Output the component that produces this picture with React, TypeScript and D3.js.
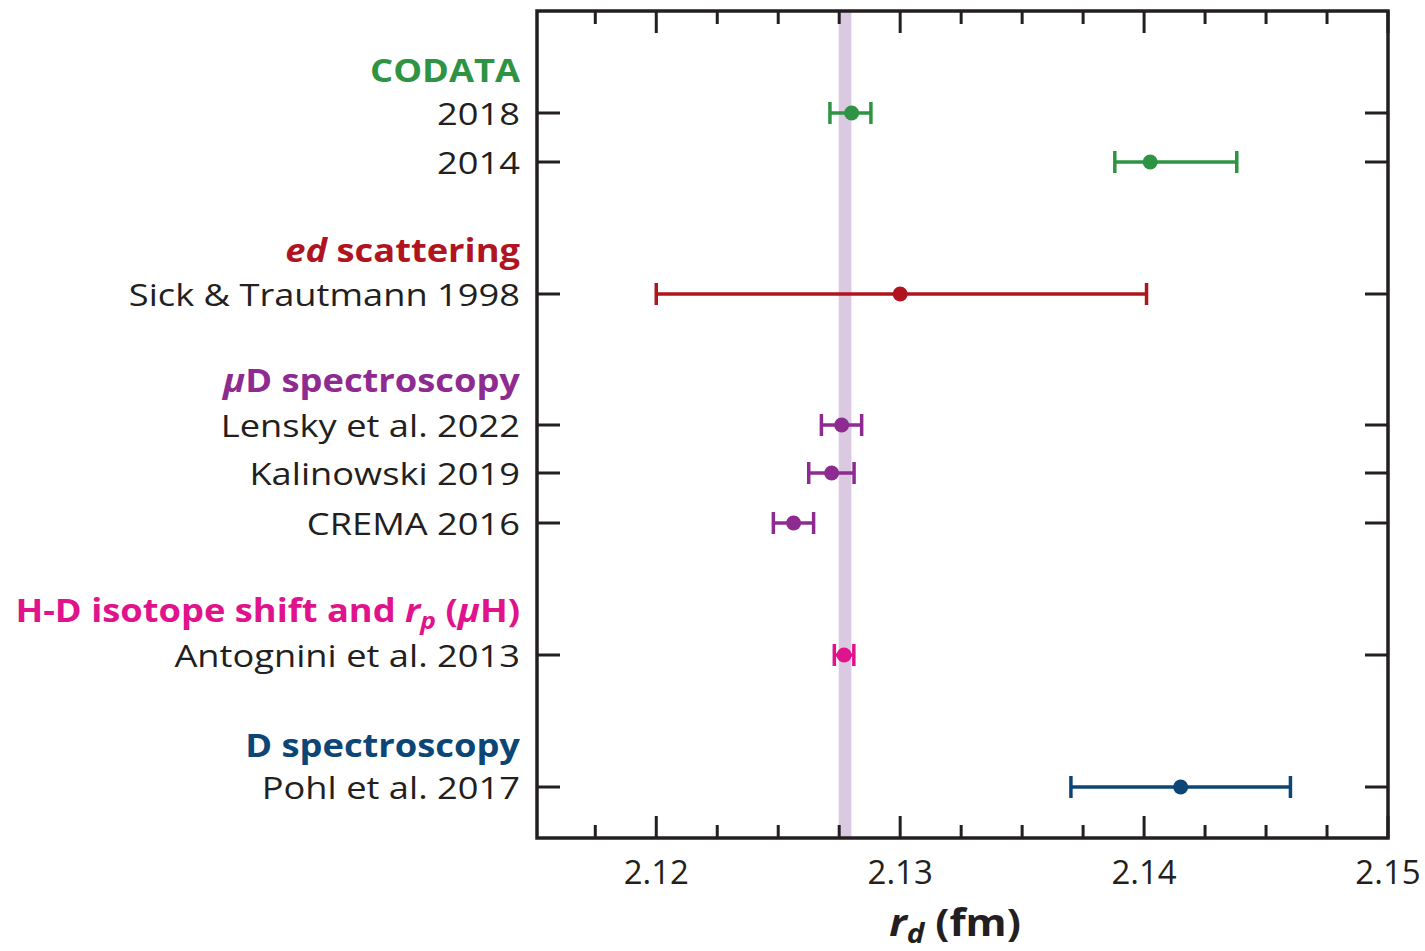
import React from "react";
import * as d3 from "d3";

type Row = { label: string; value: number; lo: number; hi: number; color: string; y: number };

const groupHeaders = ["CODATA", "ed scattering", "μD spectroscopy", "H-D isotope shift and r_p (μH)", "D spectroscopy"];
const groupColors = ["#2e9444", "#b0141f", "#8e2b91", "#e0128c", "#0b4676"];

const rowLabels = ["2018", "2014", "Sick & Trautmann 1998", "Lensky et al. 2022", "Kalinowski 2019", "CREMA 2016", "Antognini et al. 2013", "Pohl et al. 2017"];
const rowGroup = [0, 0, 1, 2, 2, 2, 3, 4];
const rowValues = [2.12801, 2.14025, 2.13, 2.1276, 2.12719, 2.12563, 2.1277, 2.1415];
const rowLow = [2.12712, 2.1388, 2.12, 2.12677, 2.12625, 2.1248, 2.1273, 2.137];
const rowHigh = [2.1288, 2.1438, 2.1401, 2.12842, 2.12811, 2.12645, 2.1281, 2.146];

const bandLow = 2.12748;
const bandHigh = 2.128;
const majorTicks = [2.12, 2.13, 2.14, 2.15];
const minorTicks = [2.1175, 2.1225, 2.125, 2.1275, 2.1325, 2.135, 2.1375, 2.1425, 2.145, 2.1475];

const FONT = "'Open Sans', 'Noto Sans', sans-serif";

export default function App() {
  const W = 1425, H = 951;
  const left = 537, right = 1388, top = 11, bottom = 838;
  const x = d3.scaleLinear().domain([2.11511, 2.15]).range([left, right]);
  const yPos: Record<string, number> = {
    h0: 70, r0: 113, r1: 162,
    h1: 250, r2: 294,
    h2: 380, r3: 425, r4: 473, r5: 523,
    h3: 610, r6: 655,
    h4: 745, r7: 787,
  };
  const yScale = d3.scaleOrdinal<string, number>().domain(Object.keys(yPos)).range(Object.values(yPos));

  const rows: Row[] = rowLabels.map((l, i) => ({
    label: l, value: rowValues[i], lo: rowLow[i], hi: rowHigh[i], color: groupColors[rowGroup[i]], y: yScale("r" + i),
  }));

  const labelX = 520;
  const fs = 31;
  const hfs = 33;
  const rowSx = 1.17;
  const headSx = 1.1;
  const capH = 11;
  const ink = "#231f20";

  const header = (i: number) => {
    const y = yScale("h" + i) + 12;
    const c = groupColors[i];
    const common = { x: 0, y: 0, textAnchor: "end" as const, fill: c, fontFamily: FONT, fontWeight: 700, fontSize: hfs };
    let content: React.ReactNode;
    if (i === 1) content = <text {...common}><tspan fontStyle="italic">ed</tspan> scattering</text>;
    else if (i === 2) content = <text {...common}><tspan fontStyle="italic">μ</tspan>D spectroscopy</text>;
    else if (i === 3)
      content = (
        <text {...common}>
          H-D isotope shift and <tspan fontStyle="italic">r</tspan>
          <tspan fontStyle="italic" fontSize={24} dy={7}>p</tspan>
          <tspan dy={-7}> (</tspan>
          <tspan fontStyle="italic">μ</tspan>H)
        </text>
      );
    else content = <text {...common}>{groupHeaders[i]}</text>;
    return (
      <g key={"h" + i} transform={`translate(${labelX},${y}) scale(${headSx},1)`}>
        {content}
      </g>
    );
  };

  return (
    <svg width={W} height={H} style={{ display: "block", position: "absolute", left: 0, top: 0 }}>
      <rect width={W} height={H} fill="#fff" />
      <rect x={x(bandLow)} y={top} width={x(bandHigh) - x(bandLow)} height={bottom - top} fill="#dbc8e1" />
      {majorTicks.map((t) => (
        <g key={"M" + t} stroke={ink} strokeWidth={3}>
          <line x1={x(t)} x2={x(t)} y1={top} y2={top + 22} />
          <line x1={x(t)} x2={x(t)} y1={bottom} y2={bottom - 22} />
        </g>
      ))}
      {minorTicks.map((t) => (
        <g key={"m" + t} stroke={ink} strokeWidth={3}>
          <line x1={x(t)} x2={x(t)} y1={top} y2={top + 13} />
          <line x1={x(t)} x2={x(t)} y1={bottom} y2={bottom - 13} />
        </g>
      ))}
      {rows.map((r, i) => (
        <g key={"rt" + i} stroke={ink} strokeWidth={3}>
          <line x1={left} x2={left + 23} y1={r.y} y2={r.y} />
          <line x1={right} x2={right - 23} y1={r.y} y2={r.y} />
        </g>
      ))}
      <rect x={left} y={top} width={right - left} height={bottom - top} fill="none" stroke={ink} strokeWidth={3.5} />
      {majorTicks.map((t) => (
        <text key={"l" + t} x={x(t)} y={884} textAnchor="middle" fontFamily={FONT} fontSize={33} fill={ink}>
          {d3.format(".2f")(t)}
        </text>
      ))}
      <g transform="translate(955,936) scale(1.1,1)">
        <text x={0} y={0} textAnchor="middle" fontFamily={FONT} fontWeight={700} fontSize={38} fill={ink}>
          <tspan fontStyle="italic">r</tspan>
          <tspan fontStyle="italic" fontSize={27} dy={7}>d</tspan>
          <tspan dy={-7}> (fm)</tspan>
        </text>
      </g>
      {groupHeaders.map((_, i) => header(i))}
      {rows.map((r, i) => (
        <g key={"rl" + i} transform={`translate(${labelX},${r.y + 12}) scale(${rowSx},1)`}>
          <text x={0} y={0} textAnchor="end" fontFamily={FONT} fontSize={fs} fill={ink}>
            {r.label}
          </text>
        </g>
      ))}
      {rows.map((r, i) => (
        <g key={"eb" + i} stroke={r.color} strokeWidth={3.5} fill={r.color}>
          <line x1={x(r.lo)} x2={x(r.hi)} y1={r.y} y2={r.y} />
          <line x1={x(r.lo)} x2={x(r.lo)} y1={r.y - capH} y2={r.y + capH} />
          <line x1={x(r.hi)} x2={x(r.hi)} y1={r.y - capH} y2={r.y + capH} />
          <circle cx={x(r.value)} cy={r.y} r={7.5} stroke="none" />
        </g>
      ))}
    </svg>
  );
}
